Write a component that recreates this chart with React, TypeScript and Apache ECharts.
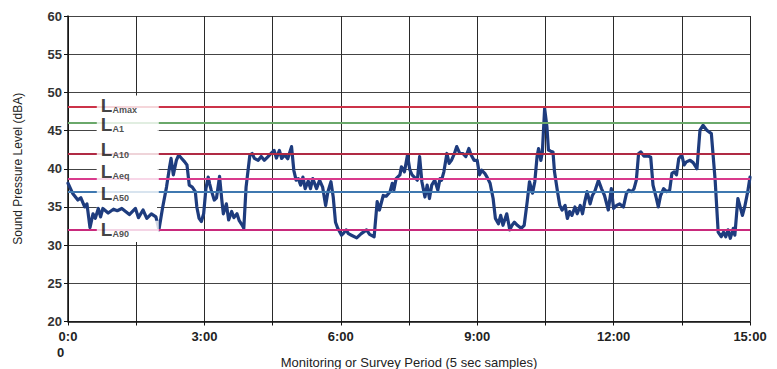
import React, { useEffect, useRef } from "react";
import * as echarts from "echarts";

// Sample times (seconds from start) and measured sound level (dBA)
const sampleTimes = [0,6,13,17,22,25,29,33,36,40,43,46,53,60,65,71,81,89,93,99,104,110,116,120,125,130,134,136,139,143,146,150,154,157,160,164,168,170,173,176,179,182,185,187,189,193,196,200,203,205,209,212,216,219,223,226,230,232,235,240,243,246,251,255,259,264,268,272,275,279,282,286,290,295,298,301,304,307,310,313,317,320,323,328,332,336,340,343,347,350,353,356,361,364,367,370,374,381,387,394,398,404,408,411,416,420,425,428,430,433,438,440,444,448,451,454,458,461,464,467,471,474,477,480,484,488,491,493,496,500,503,506,510,513,517,521,525,529,532,536,540,543,546,550,553,557,561,564,568,571,574,579,583,586,589,593,598,602,606,609,613,616,619,621,624,626,629,632,634,637,640,642,646,649,652,656,659,662,665,669,672,676,679,682,685,689,692,695,700,704,708,713,717,720,724,728,733,737,740,744,747,750,753,756,760,766,769,772,776,779,782,786,790,794,797,800,803,806,810,813,816,821,825,830,834,838,843,849,854,858,862,865,868,871,874,878,880,884,887,890,893,897,900];
const soundLevels = [38.1,36.8,35.9,36.2,35.0,35.4,32.3,34.1,33.5,34.8,33.7,34.8,34.2,34.7,34.5,34.8,34.0,34.8,33.6,34.6,33.5,34.1,33.7,32.0,35.0,37.6,40.2,41.35,39.2,41.1,41.8,41.35,40.9,40.5,37.85,37.6,37.0,35.0,33.5,33.1,34.1,37.4,38.9,38.0,37.2,35.9,36.2,39.0,35.9,34.1,35.4,33.3,34.4,33.6,34.1,33.2,32.6,32.2,37.6,41.8,42.0,41.35,41.1,41.6,41.1,41.6,42.0,42.4,41.4,42.4,41.35,41.8,41.3,42.9,39.8,38.5,38.7,37.85,38.9,37.4,38.4,37.4,38.7,37.4,38.5,37.6,35.2,37.0,38.3,36.3,33.0,32.2,31.3,31.6,32.0,31.5,31.3,30.95,31.5,32.0,31.4,31.1,35.7,34.6,36.5,36.4,37.0,38.1,37.2,38.7,39.2,40.25,39.6,41.8,39.9,39.2,38.8,38.5,41.6,38.3,36.3,37.85,36.1,37.85,38.5,37.2,38.7,38.5,39.6,42.0,40.7,41.1,42.0,42.9,42.0,42.0,41.6,42.65,41.8,41.1,41.1,39.2,39.8,39.4,38.9,38.1,36.1,33.5,32.8,33.9,32.6,34.1,32.0,32.6,33.0,32.6,32.2,32.6,35.7,38.3,36.8,38.3,41.6,42.65,41.1,42.2,47.9,45.5,42.45,42.3,42.2,39.6,37.0,35.2,34.6,35.2,33.5,34.4,33.9,35.0,34.1,35.2,34.1,35.7,37.0,35.4,36.5,37.0,38.5,37.4,36.5,34.6,37.4,34.8,35.2,35.4,35.0,36.8,37.2,37.0,37.4,38.5,42.0,42.2,41.65,41.65,41.5,37.85,36.3,35.0,36.5,37.4,37.0,37.2,39.4,39.6,39.2,41.35,41.8,40.5,40.9,41.1,40.8,40.0,45.05,45.7,45.05,44.6,38.5,31.7,31.1,31.7,31.1,32.0,30.9,32.2,31.3,36.1,35.0,33.9,35.0,37.0,38.9];

// Statistical levels (dBA)
const statNames = ["Amax", "A1", "A10", "Aeq", "A50", "A90"];
const statValues = [48.1, 46.0, 42.0, 38.7, 37.0, 32.0];
const statColors = ["#cc3348", "#6aa86a", "#b02a44", "#d93a8c", "#3f78b0", "#c92a7c"];

// Axis ticks
const yTicks = [20, 25, 30, 35, 40, 45, 50, 55, 60];
const xMaxSeconds = 900;
const xGridStep = 90;
const xLabelStep = 180;

export default function App() {
  const ref = useRef<HTMLDivElement>(null);

  useEffect(() => {
    if (!ref.current) return;
    const chart = echarts.init(ref.current, null, { renderer: "svg" });
    const fontFamily = "Liberation Sans, Arial, sans-serif";

    const lineData = sampleTimes.map((t, i) => [t, soundLevels[i]]);
    // legend box placement (layout, in axis units)
    const boxLeft = 38;
    const boxRight = 117.5;
    const boxBottom = 30.4;
    const boxTop = 49.6;
    const labelOffsets = [-1, 2, -3, -7, 2, 0];
    const legendData = statNames.map((n, i) => ({
      value: [boxLeft, statValues[i], n],
      label: { offset: [0, labelOffsets[i]] },
    }));

    chart.setOption({
      animation: false,
      backgroundColor: "#ffffff",
      grid: { left: 68, right: 27, top: 16, bottom: 47.5, outerBoundsMode: "none", containLabel: false },
      xAxis: {
        type: "value",
        min: 0,
        max: xMaxSeconds,
        interval: xGridStep,
        name: "Monitoring or Survey Period (5 sec samples)",
        nameLocation: "middle",
        nameGap: 34,
        nameMoveOverlap: false,
        nameTextStyle: { fontFamily, fontSize: 13, color: "#222", verticalAlign: "top" },
        axisLine: { show: true, lineStyle: { color: "#111", width: 1.5 } },
        axisTick: { show: true, length: 4, lineStyle: { color: "#111" } },
        splitLine: { show: true, lineStyle: { color: "#2a2a2a", width: 1 } },
        axisLabel: {
          fontFamily,
          fontSize: 13,
          fontWeight: "bold",
          color: "#222",
          margin: 7,
          formatter: (v: number) => {
            if (v % xLabelStep !== 0) return "";
            if (v === 0) return "{a|0:0}\n{b|0}";
            return `{a|${v / 60}:00}`;
          },
          rich: {
            a: { fontFamily, fontSize: 13, fontWeight: "bold", color: "#222", lineHeight: 16 },
            b: { fontFamily, fontSize: 13, fontWeight: "bold", color: "#222", width: 22, align: "left", lineHeight: 16 },
          },
        },
      },
      yAxis: {
        type: "value",
        min: yTicks[0],
        max: yTicks[yTicks.length - 1],
        interval: 5,
        name: "Sound Pressure Level (dBA)",
        nameLocation: "middle",
        nameGap: 44,
        nameTextStyle: { fontFamily, fontSize: 12, color: "#222" },
        axisLine: { show: true, lineStyle: { color: "#111", width: 1.5 } },
        axisTick: { show: true, length: 4, lineStyle: { color: "#111" } },
        splitLine: { show: true, lineStyle: { color: "#444", width: 1 } },
        axisLabel: { fontFamily, fontSize: 13, fontWeight: "bold", color: "#333", margin: 6 },
      },
      series: [
        {
          type: "line",
          name: "stats",
          data: [],
          z: 1,
          silent: true,
          markLine: {
            silent: true,
            symbol: "none",
            label: { show: false },
            data: statValues.map((v, i) => ({
              yAxis: v,
              lineStyle: { color: statColors[i], width: 2, type: "solid" },
            })),
          },
        },
        {
          type: "line",
          name: "legendBox",
          data: [],
          z: 2,
          silent: true,
          markArea: {
            silent: true,
            itemStyle: { color: "#ffffff", opacity: 1 },
            label: { show: false },
            data: [[{ xAxis: boxLeft, yAxis: boxBottom }, { xAxis: boxRight, yAxis: boxTop }]],
          },
        },
        {
          type: "line",
          name: "Level",
          data: lineData,
          z: 3,
          showSymbol: false,
          symbol: "none",
          lineStyle: { color: "#1e3c7e", width: 3.2, join: "round", cap: "round" },
        },
        {
          type: "scatter",
          name: "legend",
          data: legendData,
          z: 10,
          symbolSize: 0,
          silent: true,
          label: {
            show: true,
            position: "right",
            distance: 0,
            backgroundColor: "#ffffff",
            width: 56,
            height: 18,
            padding: [0, 2, 0, 4],
            verticalAlign: "middle",
            formatter: (p: any) => `{L|L}{s|${p.value[2]}}`,
            rich: {
              L: { fontFamily, fontSize: 19, fontWeight: "bold", color: "#111", verticalAlign: "bottom", lineHeight: 18 },
              s: { fontFamily, fontSize: 9, fontWeight: "bold", color: "#222", verticalAlign: "bottom", padding: [10, 0, 0, 0], lineHeight: 18 },
            },
          },
        },
      ],
    });

    return () => chart.dispose();
  }, []);

  return (
    <div
      ref={ref}
      style={{ position: "fixed", left: 0, top: 0, width: 777, height: 369, background: "#fff" }}
    />
  );
}
